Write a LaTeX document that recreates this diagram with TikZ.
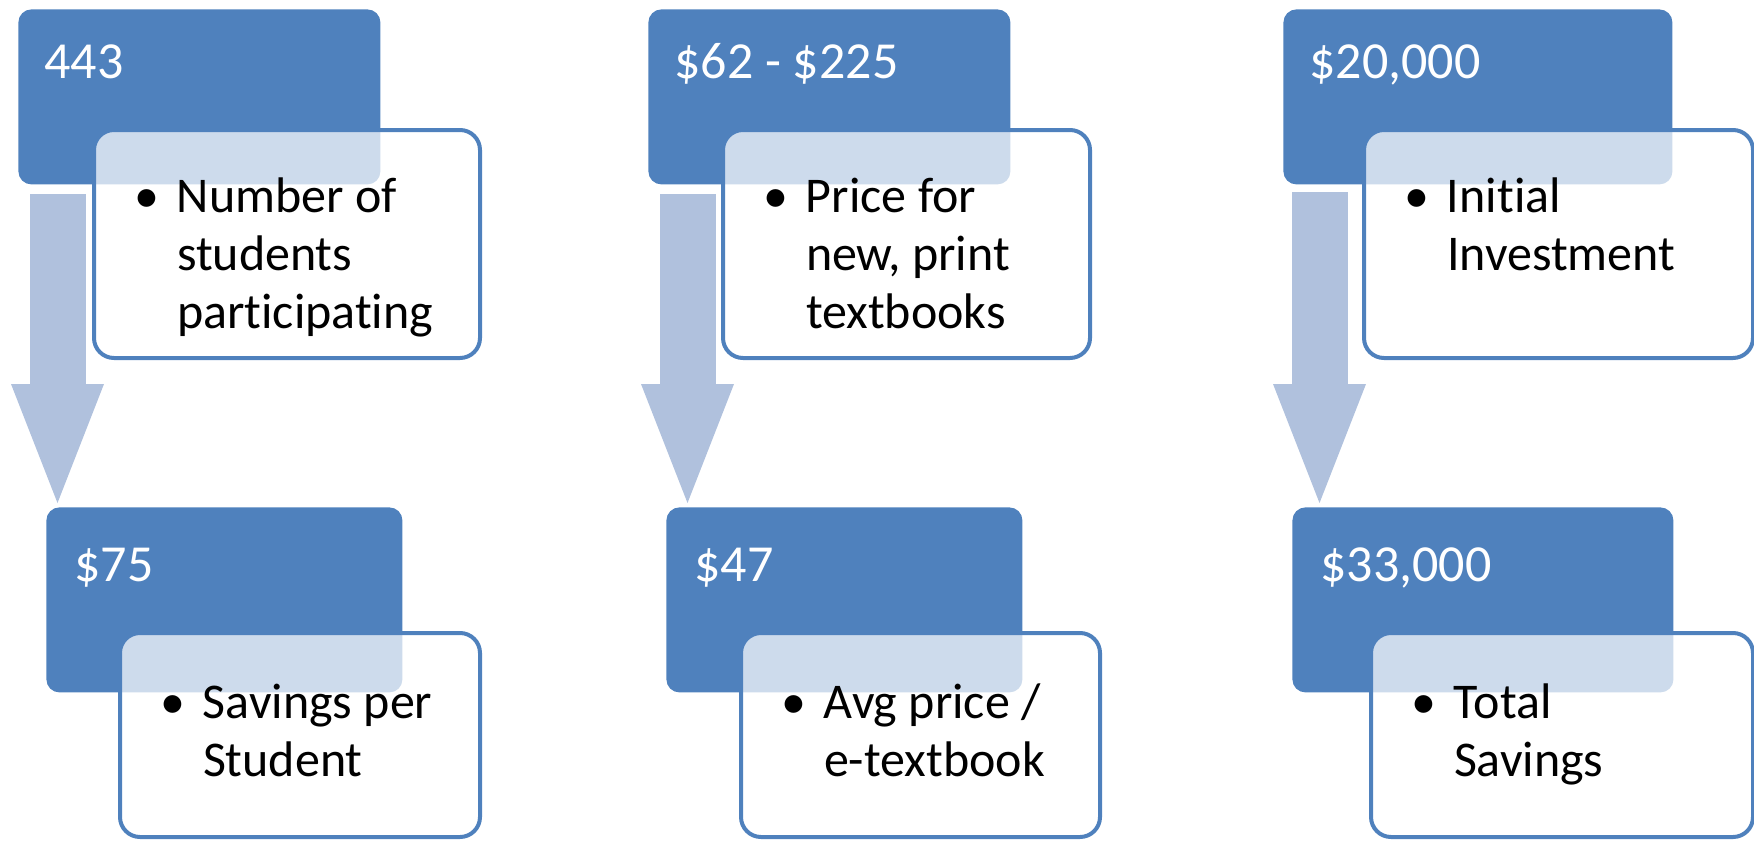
\documentclass[tikz,border=0pt]{standalone}
\usepackage{fontspec}
\setmainfont{Carlito}[Ligatures=NoCommon]
\usepackage{tikz}
\usetikzlibrary{arrows.meta}

\definecolor{hblue}{RGB}{79,129,189}
\definecolor{ablue}{RGB}{176,193,221}

\newcommand{\bitem}[1]{\makebox[21.5pt][l]{\textbullet}\begin{tabular}[t]{@{}l@{}}#1\end{tabular}}

\begin{document}
\begin{tikzpicture}[
  x=1pt, y=-1pt,
  fig/.style={fill=hblue, rounded corners=6.5pt, anchor=north west, text=white,
    font=\fontsize{26}{30}\selectfont, align=flush left, inner xsep=13pt, inner ysep=0pt},
  toprow/.style={text height=34.5pt, text depth=53pt},
  botrow/.style={text height=37pt, text depth=55.5pt, inner xsep=14pt},
  note/.style={draw=hblue, line width=2pt, fill=white, fill opacity=0.72, text opacity=1,
    rounded corners=10pt, anchor=north west, align=flush left,
    font=\fontsize{25}{29}\selectfont, inner xsep=20pt, inner ysep=0pt},
  ntop/.style={text height=41pt, text depth=73pt},
  nbot/.style={text height=42.5pt, text depth=59.5pt},
  flow/.style={draw=ablue, line width=28pt,
    -{Triangle[length=59.5pt, width=46.5pt, line width=0pt]}, shorten >=2pt},
]
  \useasboundingbox (0,0) rectangle (877,420);

  % top row
  \node[fig, toprow, text width=155pt]   (f1) at (9,4.5)     {443};
  \node[fig, toprow, text width=155pt]   (f2) at (324,4.5)   {\$62 - \$225};
  \node[fig, toprow, text width=168.5pt] (f3) at (641.5,4.5) {\$20,000};

  \node[note, ntop, text width=153pt]   (d1) at (46,64)    {\bitem{Number of\\students\\participating}};
  \node[note, ntop, text width=143.5pt] (d2) at (360.5,64) {\bitem{Price for\\new, print\\textbooks}};
  \node[note, ntop, text width=154.5pt] (d3) at (681,64)   {\bitem{Initial\\Investment}};

  % bottom row
  \node[fig, botrow, text width=150pt]   (g1) at (23,253.5)  {\$75};
  \node[fig, botrow, text width=150pt]   (g2) at (333,253.5) {\$47};
  \node[fig, botrow, text width=162.5pt] (g3) at (646,253.5) {\$33,000};

  \node[note, nbot, text width=140pt]   (e1) at (59,315.5)    {\bitem{Savings per\\Student}};
  \node[note, nbot, text width=139.5pt] (e2) at (369.5,315.5) {\bitem{Avg price /\\e-textbook}};
  \node[note, nbot, text width=151pt]   (e3) at (684.5,315.5) {\bitem{Total\\Savings}};

  % arrows
  \coordinate (a1) at (28.75,97);
  \coordinate (a2) at (343.75,97);
  \coordinate (a3) at (659.75,96);
  \draw[flow] (a1) -- (a1 |- g1.north);
  \draw[flow] (a2) -- (a2 |- g2.north);
  \draw[flow] (a3) -- (a3 |- g3.north);
\end{tikzpicture}
\end{document}
